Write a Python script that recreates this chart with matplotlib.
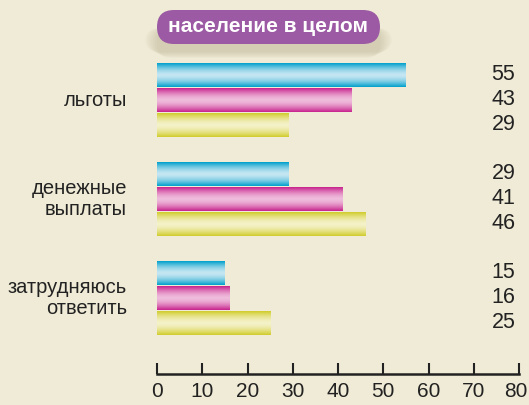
import numpy as np
import matplotlib
matplotlib.use('Agg')
import matplotlib.pyplot as plt
from matplotlib.patches import FancyBboxPatch
from matplotlib.colors import LinearSegmentedColormap
from matplotlib.transforms import IdentityTransform, ScaledTranslation
import matplotlib.font_manager as fm

names = {f.name for f in fm.fontManager.ttflist}
narrow = 'Liberation Sans Narrow' if 'Liberation Sans Narrow' in names else 'Liberation Sans'
plt.rcParams['font.family'] = [narrow, 'DejaVu Sans']

categories = ['льготы', 'денежные\nвыплаты', 'затрудняюсь\nответить']
series_a = [55, 29, 15]   # cyan
series_b = [43, 41, 16]   # magenta
series_c = [29, 46, 25]   # yellow
title = 'население в целом'
xticks = [0, 10, 20, 30, 40, 50, 60, 70, 80]

BG = '#f0ebd6'
grads = [('#00a0cc', '#c4e6f2'), ('#c8238c', '#efbcdc'), ('#d0cc2c', '#f4f2c8')]

W, H = 529, 405
fig = plt.figure(figsize=(W / 100, H / 100), dpi=100, facecolor=BG)
ax = fig.add_axes([157 / W, (H - 374) / H, 362 / W, 324 / H])
ax.set_facecolor(BG)

step = 25 / 99
bh = 24 / 99
grad = np.abs(np.linspace(-1, 1, 64))[:, None]
for k, (vals, (dark, light)) in enumerate(zip([series_a, series_b, series_c], grads)):
    cmap = LinearSegmentedColormap.from_list('g%d' % k, [light, dark])
    for i, v in enumerate(vals):
        yc = i + (k - 1) * step
        ax.imshow(grad ** 1.6, cmap=cmap, aspect='auto', interpolation='bilinear',
                  extent=(0, v, yc + bh / 2, yc - bh / 2), vmin=0, vmax=1, zorder=2)
        ax.text(0.99, yc, str(v), transform=ax.get_yaxis_transform(),
                ha='right', va='center', fontsize=15.5, color='#222222')
ax.set_xlim(0, 80)
ax.set_ylim(2.768, -0.505)

for i, c in enumerate(categories):
    fig.text(127 / W, 1 - (100 + 99 * i) / H, c, ha='right', va='center',
             fontsize=14.5, color='#222222', multialignment='right', linespacing=1.15)

for s in ['top', 'left', 'right']:
    ax.spines[s].set_visible(False)
ax.spines['bottom'].set_linewidth(1.8)
ax.spines['bottom'].set_color('#222222')
ax.set_yticks([])
ax.set_xticks(xticks)
ax.tick_params(axis='x', direction='in', length=8, width=1.5, color='#222222',
               labelsize=15, labelcolor='#222222', pad=6)
last = ax.xaxis.get_majorticklabels()[-1]
last.set_transform(last.get_transform() + ScaledTranslation(-3 / 100, 0, fig.dpi_scale_trans))

# title pill with soft shadow (pixel coordinates)
for j in range(7):
    sh = FancyBboxPatch((157 - j * 2, H - 58 + j), 223 + j * 4, 30 - j,
                        boxstyle='round,pad=0,rounding_size=15', transform=IdentityTransform(),
                        facecolor='#a89f80', edgecolor='none', alpha=0.06, zorder=0)
    fig.patches.append(sh)
pill = FancyBboxPatch((157, H - 44), 223, 34,
                      boxstyle='round,pad=0,rounding_size=17', transform=IdentityTransform(),
                      facecolor='#9b5aa3', edgecolor='none', zorder=1)
fig.patches.append(pill)
fig.text(268 / W, 1 - 27 / H, title, ha='center', va='center', fontsize=15,
         fontweight='bold', color='white', zorder=3)

fig.savefig('out.png', dpi=100, facecolor=BG)
